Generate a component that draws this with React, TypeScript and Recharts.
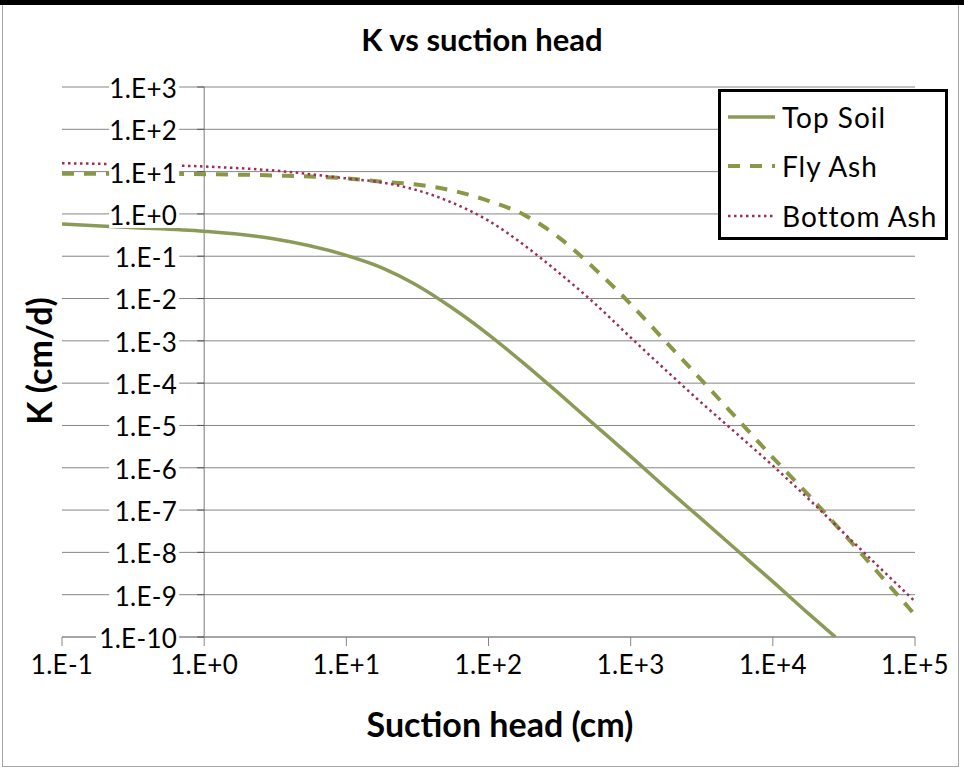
import React from "react";
import { LineChart, Line, XAxis, YAxis, CartesianGrid, Legend, ReferenceLine } from "recharts";

// suction head (cm), shared by Fly Ash and Bottom Ash
const suction = [
  0.1, 0.3, 1, 3, 10, 18, 30, 56, 100, 180, 300, 560, 1000, 1800, 3000, 5600, 10000, 18000, 30000,
  56000, 100000,
];
const topSoilSuction = [
  0.1, 0.3, 1, 3, 10, 18, 30, 56, 100, 180, 300, 560, 1000, 1800, 3000, 5600, 10000, 18000, 27500,
];

// K (cm/d)
const topSoilK = [
  0.575, 0.479, 0.389, 0.263, 0.105, 0.0525, 0.0224, 0.00589, 0.00141, 2.82e-4, 6.46e-5, 1.02e-5,
  1.86e-6, 3.16e-7, 7.08e-8, 1.12e-8, 2.04e-9, 3.47e-10, 1.0e-10,
];
const flyAshK = [
  8.91, 8.91, 8.71, 8.13, 6.92, 5.75, 5.01, 3.55, 2.04, 0.933, 0.309, 0.0501, 0.00741, 8.91e-4,
  1.41e-4, 1.45e-5, 1.74e-6, 2.19e-7, 3.31e-8, 3.09e-9, 3.31e-10,
];
const bottomAshK = [
  15.8, 14.8, 13.2, 10.7, 6.92, 5.5, 3.8, 1.82, 0.692, 0.178, 0.0457, 0.00759, 0.0012, 1.91e-4,
  3.98e-5, 6.31e-6, 1.12e-6, 1.78e-7, 3.39e-8, 4.47e-9, 6.92e-10,
];

const xTicks = [0.1, 1, 10, 100, 1000, 10000, 100000];
const yTicks = [1e-10, 1e-9, 1e-8, 1e-7, 1e-6, 1e-5, 1e-4, 1e-3, 1e-2, 1e-1, 1, 10, 100, 1000];

const topSoil = topSoilSuction.map((x, i) => ({ x, k: topSoilK[i] }));
const flyAsh = suction.map((x, i) => ({ x, k: flyAshK[i] }));
const bottomAsh = suction.map((x, i) => ({ x, k: bottomAshK[i] }));

const W = 964;
const H = 772;
const Y_AXIS_W = 1;
const M = { top: 87, right: 49, bottom: 105, left: 62 - Y_AXIS_W };
const PLOT_LEFT = M.left + Y_AXIS_W;
const PLOT_W = W - PLOT_LEFT - M.right;
// the vertical axis crosses at x = 1
const AXIS_X =
  PLOT_LEFT + (PLOT_W * (Math.log10(1) - Math.log10(0.1))) / (Math.log10(1e5) - Math.log10(0.1));

const FONT = "Lato, 'Open Sans', sans-serif";
const GRID = "#868686";
const TOP_COLOR = "#8b9a58";
const FLY_COLOR = "#889846";
const BOTTOM_COLOR = "#9e2d55";

const fmt = (v: number) => {
  const e = Math.round(Math.log10(v));
  return `1.E${e >= 0 ? "+" : "-"}${Math.abs(e)}`;
};

function YTick({ y, payload }: any) {
  const label = fmt(payload.value);
  const right = AXIS_X - 27;
  const w = label.length * 13.2;
  return (
    <g>
      <line x1={AXIS_X - 7} x2={AXIS_X} y1={y} y2={y} stroke="#555" />
      <rect x={right - w - 2} y={y - 12} width={w + 4} height={26} fill="#fff" />
      <text
        x={right}
        y={y}
        dy="0.42em"
        textAnchor="end"
        fontFamily={FONT}
        fontSize={26}
        fill="#000"
        style={{ letterSpacing: 0.3 }}
      >
        {label}
      </text>
    </g>
  );
}

function XTick({ x, y, payload }: any) {
  return (
    <text
      x={x}
      y={y}
      dy="0.75em"
      textAnchor="middle"
      fontFamily={FONT}
      fontSize={26}
      fill="#000"
      style={{ letterSpacing: 0.3 }}
    >
      {fmt(payload.value)}
    </text>
  );
}

const legendItems = [
  { name: "Top Soil", color: TOP_COLOR, dash: undefined as string | undefined, width: 3.5 },
  { name: "Fly Ash", color: FLY_COLOR, dash: "12 10", width: 4 },
  { name: "Bottom Ash", color: BOTTOM_COLOR, dash: "2.5 3.5", width: 2.5 },
];

function LegendBox() {
  return (
    <div
      style={{
        width: 230,
        height: 151,
        border: "3px solid #000",
        background: "#fff",
        boxSizing: "border-box",
      }}
    >
      {legendItems.map((s) => (
        <div key={s.name} style={{ display: "flex", alignItems: "center", height: 49.5 }}>
          <svg width={47} height={10} style={{ marginLeft: 7, marginRight: 7 }}>
            <line
              x1={0}
              x2={47}
              y1={5}
              y2={5}
              stroke={s.color}
              strokeWidth={s.width}
              strokeDasharray={s.dash}
            />
          </svg>
          <span style={{ fontFamily: FONT, fontSize: 28, letterSpacing: 1, color: "#000" }}>
            {s.name}
          </span>
        </div>
      ))}
    </div>
  );
}

export default function App() {
  return (
    <div style={{ position: "absolute", left: 0, top: 0, width: W, height: H, background: "#fff" }}>
      <div style={{ position: "absolute", left: 0, top: 0, width: W, height: 5, background: "#000" }} />
      <div
        style={{
          position: "absolute",
          left: 2,
          top: 5,
          width: 957,
          height: 762,
          border: "1.5px solid #a6a6a6",
          borderTop: "none",
          boxSizing: "border-box",
        }}
      />
      <LineChart width={W} height={H} margin={M}>
        <CartesianGrid vertical={false} stroke={GRID} />
        <XAxis
          type="number"
          dataKey="x"
          scale="log"
          domain={[0.1, 100000]}
          ticks={xTicks}
          interval={0}
          allowDataOverflow
          height={30}
          stroke={GRID}
          tickSize={9}
          tickMargin={8}
          tick={<XTick />}
        />
        <ReferenceLine x={1} stroke="#7a7a7a" />
        <Line
          data={topSoil}
          dataKey="k"
          name="Top Soil"
          type="monotone"
          stroke={TOP_COLOR}
          strokeWidth={3.5}
          dot={false}
          isAnimationActive={false}
        />
        <Line
          data={flyAsh}
          dataKey="k"
          name="Fly Ash"
          type="monotone"
          stroke={FLY_COLOR}
          strokeWidth={4}
          strokeDasharray="12 10"
          dot={false}
          isAnimationActive={false}
        />
        <Line
          data={bottomAsh}
          dataKey="k"
          name="Bottom Ash"
          type="monotone"
          stroke={BOTTOM_COLOR}
          strokeWidth={2.5}
          strokeDasharray="2.5 3.5"
          dot={false}
          isAnimationActive={false}
        />
        <YAxis
          type="number"
          scale="log"
          domain={[1e-10, 1000]}
          ticks={yTicks}
          interval={0}
          allowDataOverflow
          width={Y_AXIS_W}
          axisLine={false}
          tickLine={false}
          tick={<YTick />}
        />
        <Legend
          layout="horizontal"
          verticalAlign="middle"
          align="center"
          wrapperStyle={{ position: "absolute", left: 718, top: 89, width: 230, height: 151 }}
          content={<LegendBox />}
        />
      </LineChart>
      <svg
        width={W}
        height={H}
        style={{ position: "absolute", left: 0, top: 0, pointerEvents: "none" }}
      >
        <text x={482} y={51} textAnchor="middle" fontFamily={FONT} fontWeight="bold" fontSize={31}>
          K vs suction head
        </text>
        <text x={500} y={737} textAnchor="middle" fontFamily={FONT} fontWeight="bold" fontSize={34}>
          Suction head (cm)
        </text>
        <text
          x={0}
          y={0}
          transform="translate(52 361) rotate(-90)"
          textAnchor="middle"
          fontFamily={FONT}
          fontWeight="bold"
          fontSize={34}
        >
          K (cm/d)
        </text>
      </svg>
    </div>
  );
}
